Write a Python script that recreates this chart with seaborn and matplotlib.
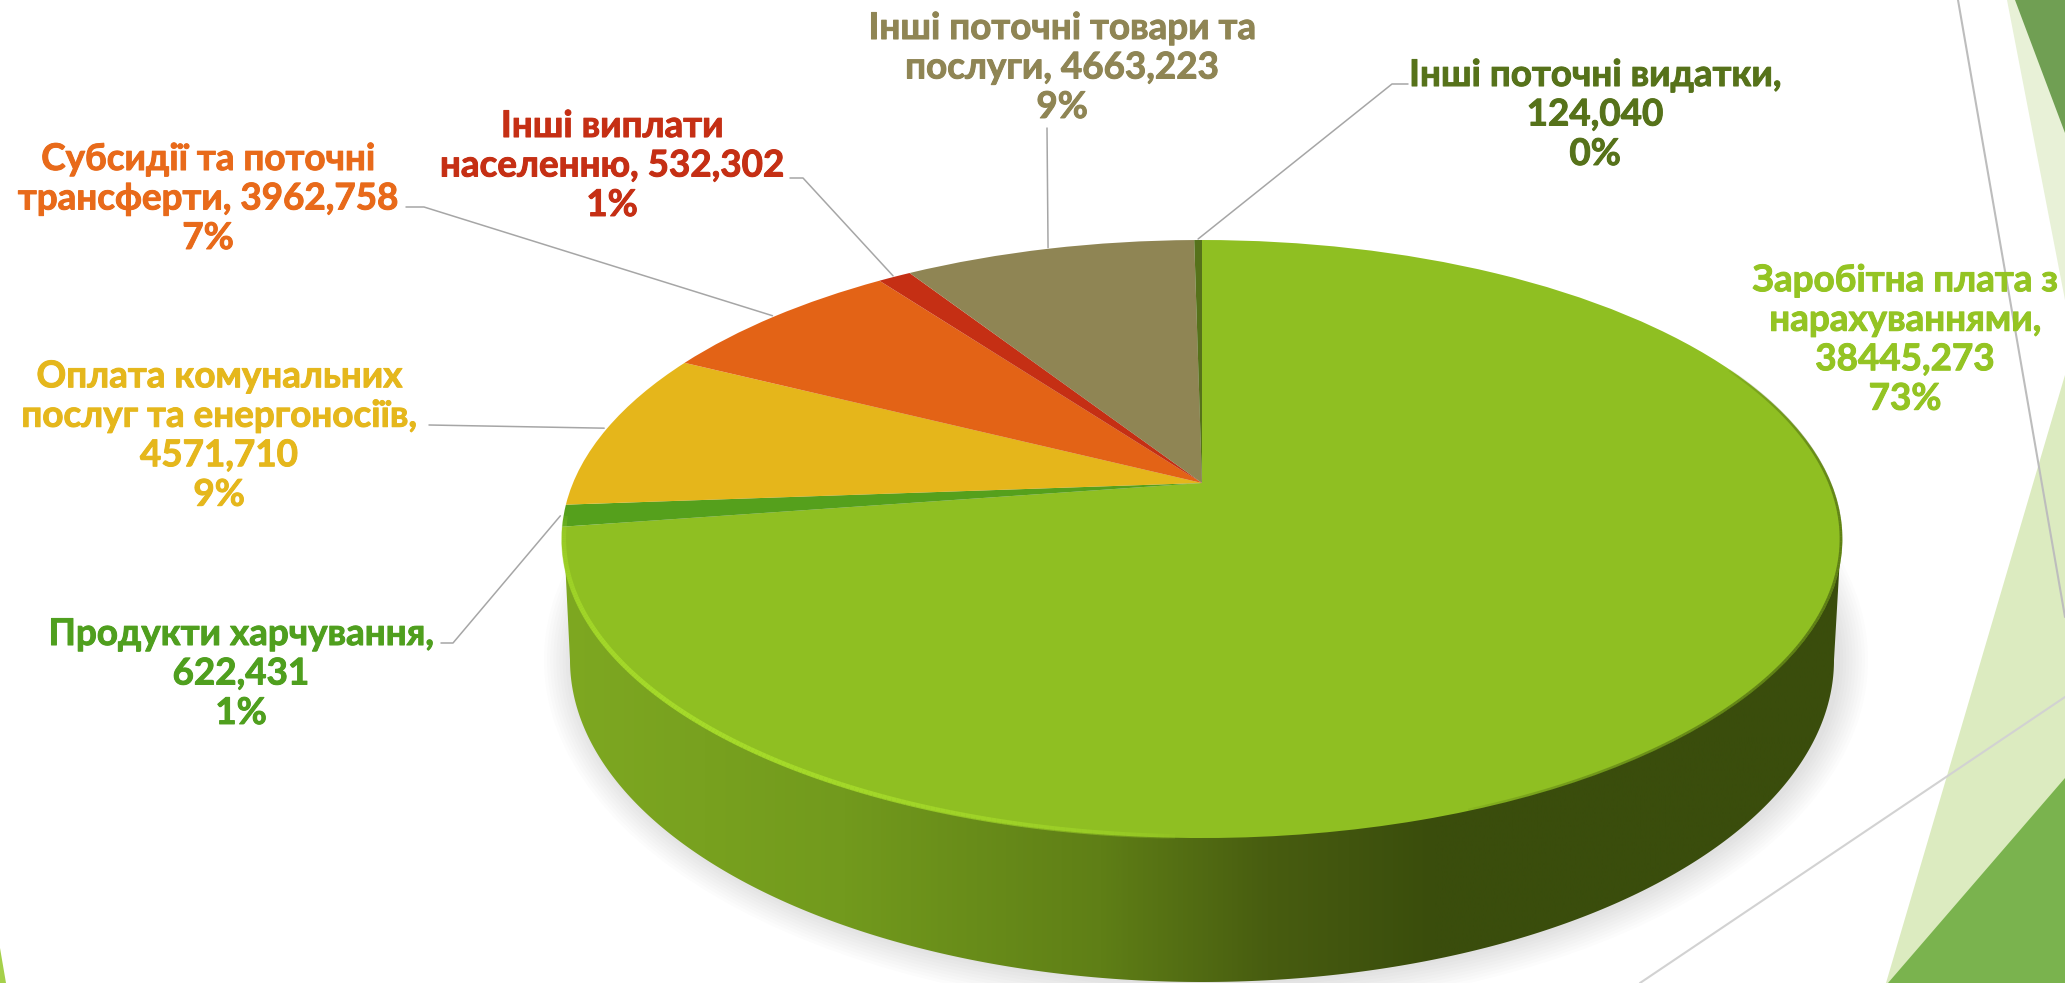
import numpy as np
import matplotlib
matplotlib.use("Agg")
import matplotlib.pyplot as plt
import matplotlib.patheffects as pe
import matplotlib.transforms as mtransforms
from matplotlib.collections import LineCollection
from matplotlib.colors import LinearSegmentedColormap
from matplotlib.patches import Ellipse, Polygon
import seaborn as sns

# Дані діаграми
categories = [
    "Заробітна плата з\nнарахуваннями,",
    "Продукти харчування,",
    "Оплата комунальних\nпослуг та енергоносіїв,",
    "Субсидії та поточні\nтрансферти,",
    "Інші виплати\nнаселенню,",
    "Інші поточні товари та\nпослуги,",
    "Інші поточні видатки,",
]
values = [38445.273, 622.431, 4571.710, 3962.758, 532.302, 4663.223, 124.040]
value_breaks = ["\n", "\n", "\n", " ", " ", " ", "\n"]
slice_colors = ["#8FBF22", "#55A01C", "#E5B61B", "#E36316", "#C52F14", "#8F8554", "#56721A"]
text_colors = ["#94C423", "#4F9F1E", "#E5B71C", "#E86A1A", "#C52F14", "#8F8554", "#56721A"]

# положення підписів у пікселях
label_x = [1905, 241, 219, 208, 612, 1062, 1595]
label_y = [340, 674, 436, 199, 166, 68, 115]
# початок виноски (біля тексту); None - виноски немає
leader_start = [
    None,
    [(441, 643), (453, 643)],
    [(429, 425)],
    [(406, 207), (424, 207)],
    [(790, 178), (803, 178)],
    [(1047, 128)],
    [(1408, 84), (1392, 84)],
]

WIDTH, HEIGHT = 2065, 983
APEX_X, APEX_Y = 1202, 483


class PieTilt(mtransforms.Transform):
    """Перспектива: одиничне коло -> верхня грань круга"""
    input_dims = 2
    output_dims = 2

    def __init__(self, a=629, b=288.5, k=0.1873):
        super().__init__()
        self.a, self.b, self.k = a, b, k

    def transform_non_affine(self, values):
        values = np.asarray(values)
        d = 1 + self.k * values[:, 1]
        return np.column_stack([APEX_X + self.a * values[:, 0] / d,
                                APEX_Y - self.b * values[:, 1] / d])


sns.set_theme(style="white")
plt.rcParams["font.family"] = ["Lato", "DejaVu Sans"]

fig = plt.figure(figsize=(WIDTH / 100, HEIGHT / 100), dpi=100)
ax = fig.add_axes([0, 0, 1, 1])
tilt = PieTilt()

# трикутники теми оформлення
for pts, col in [
    ([(2007, 0), (2065, 0), (2065, 300)], "#E8F1D7"),
    ([(2015, 0), (2065, 0), (2065, 133)], "#709F53"),
    ([(2065, 375), (1886, 983), (2065, 983)], "#DCEBC0"),
    ([(2065, 778), (1888, 983), (2065, 983)], "#7AB34E"),
    ([(0, 948), (6, 983), (0, 983)], "#A5D04A"),
]:
    ax.add_patch(Polygon(pts, closed=True, fc=col, ec="none", zorder=1))
ax.plot([1958, 2065], [0, 617], color="#BDBDBD", lw=1.5, zorder=1.2)
ax.plot([2065, 1640], [697, 983], color="#D2D2D2", lw=1.5, zorder=1.2)

# м'яка тінь під кругом
for grow in np.linspace(2, 30, 10):
    ax.add_patch(Ellipse((1206, 660), 2 * (632 + grow), 2 * (322 + grow),
                         fc="#808088", ec="none", alpha=0.025, zorder=1.5))

# бічна стінка з градієнтом
t = np.linspace(np.pi, 2 * np.pi, 300)
wall_pts = np.column_stack([1202 + 632 * np.cos(t), 660 - 322 * np.sin(t)])
wall_pts = np.vstack([[(564, 539)], wall_pts, [(1841, 539)]])
wall = Polygon(wall_pts, closed=True, fc="none", ec="none", transform=ax.transData)
ax.add_patch(wall)
wall_cmap = LinearSegmentedColormap.from_list(
    "wall", [(0, "#7EA821"), (0.22, "#729A1D"), (0.42, "#5F7F16"),
             (0.55, "#485D10"), (0.68, "#3A4D0C"), (1, "#3A4D0C")])
grad = ax.imshow(np.linspace(0, 1, 512)[None, :], extent=[560, 1845, 983, 500],
                 cmap=wall_cmap, aspect="auto", zorder=2)
grad.set_clip_path(wall)

# верхня грань: звичайний pie, за годинниковою стрілкою від 12 години
wedges, _ = ax.pie(values, colors=sns.color_palette(slice_colors), startangle=90,
                   counterclock=False, radius=1, wedgeprops={"linewidth": 0})
for w in wedges:
    w.set_transform(tilt + ax.transData)
    w.set_zorder(3)


def rim(theta_deg, r=1.0):
    th = np.radians(theta_deg)
    return tilt.transform_non_affine(np.column_stack([r * np.cos(th), r * np.sin(th)]))


# світлий край зліва знизу і темний край справа
th_light = np.linspace(186, 268, 200)
p = rim(th_light, 0.997)
seg = np.stack([p[:-1], p[1:]], axis=1)
alpha = 0.9 * np.sin((th_light[:-1] - 186) / 82 * np.pi) ** 0.5
ax.add_collection(LineCollection(seg, colors=[(0.66, 0.87, 0.17, x) for x in alpha],
                                 linewidths=3.5, zorder=4))
th_dark = np.linspace(-70, 25, 200)
p = rim(th_dark, 0.998)
seg = np.stack([p[:-1], p[1:]], axis=1)
alpha = 0.6 * np.sin((th_dark[:-1] + 70) / 95 * np.pi) ** 0.5
ax.add_collection(LineCollection(seg, colors=[(0.24, 0.33, 0.05, x) for x in alpha],
                                 linewidths=2.0, zorder=4))

# підписи та виноски
total = sum(values)
for i, name in enumerate(categories):
    txt = f"{name}{value_breaks[i]}{values[i]:.3f}".replace(".", ",")
    txt += f"\n{values[i] / total * 100:.0f}%"
    ax.text(label_x[i], label_y[i], txt, color=text_colors[i], ha="center", va="center",
            fontsize=26.5, fontweight="bold", linespacing=1.24, zorder=6,
            path_effects=[pe.withStroke(linewidth=0.7, foreground=text_colors[i])])
    if leader_start[i] is not None:
        w = wedges[i]
        mid = (w.theta1 + w.theta2) / 2
        end = rim(np.array([mid]), 1.005)[0]
        pts = leader_start[i] + [tuple(end)]
        ax.plot(*zip(*pts), color="#A6A6A6", lw=1.1, zorder=5)

ax.set_xlim(0, WIDTH)
ax.set_ylim(HEIGHT, 0)
ax.set_aspect("auto")
ax.axis("off")

fig.savefig("out.png", dpi=100)
plt.close(fig)
